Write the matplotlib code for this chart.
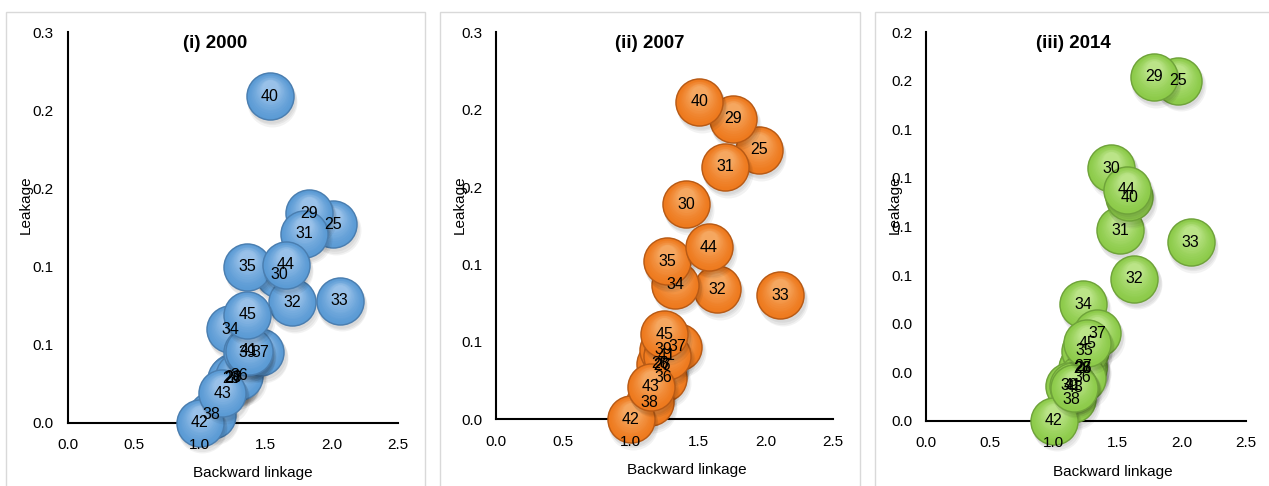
import numpy as np
import matplotlib.pyplot as plt
from matplotlib import transforms
from matplotlib.colors import to_rgb
from matplotlib.patches import Rectangle

plt.rcParams['font.family'] = ['Liberation Sans', 'DejaVu Sans']

# --[Data: backward linkage (x) and leakage (y) per sector]---------------------
sectors = [25, 26, 27, 28, 29, 30, 31, 32, 33, 34, 35,
           36, 37, 38, 39, 40, 41, 42, 43, 44, 45]

bl_2000 = [2.01, 1.25, 1.25, 1.24, 1.83, 1.60, 1.79, 1.70, 2.06, 1.23, 1.36,
           1.30, 1.46, 1.09, 1.36, 1.53, 1.37, 1.00, 1.17, 1.65, 1.36]
lk_2000 = [0.127, 0.029, 0.028, 0.028, 0.134, 0.095, 0.121, 0.077, 0.078, 0.060, 0.100,
           0.030, 0.045, 0.005, 0.045, 0.209, 0.046, 0.000, 0.019, 0.101, 0.069]

bl_2007 = [1.95, 1.23, 1.23, 1.22, 1.76, 1.41, 1.70, 1.64, 2.11, 1.33, 1.27,
           1.24, 1.35, 1.14, 1.24, 1.51, 1.27, 1.00, 1.15, 1.58, 1.25]
lk_2007 = [0.174, 0.035, 0.035, 0.036, 0.194, 0.139, 0.163, 0.084, 0.080, 0.087, 0.102,
           0.027, 0.047, 0.011, 0.045, 0.205, 0.041, 0.000, 0.021, 0.111, 0.055]

bl_2014 = [1.97, 1.23, 1.23, 1.22, 1.78, 1.45, 1.52, 1.63, 2.07, 1.23, 1.24,
           1.22, 1.34, 1.14, 1.12, 1.59, 1.15, 1.00, 1.16, 1.57, 1.26]
lk_2014 = [0.175, 0.027, 0.028, 0.027, 0.177, 0.130, 0.098, 0.073, 0.092, 0.060, 0.036,
           0.022, 0.045, 0.011, 0.018, 0.115, 0.018, 0.000, 0.017, 0.119, 0.040]

x_ticks = [0.0, 0.5, 1.0, 1.5, 2.0, 2.5]
y_ticks_a = [0.0, 0.05, 0.10, 0.15, 0.20, 0.25]
y_labels_a = ['0.0', '0.1', '0.1', '0.2', '0.2', '0.3']
y_ticks_b = [0.0, 0.025, 0.05, 0.075, 0.10, 0.125, 0.15, 0.175, 0.20]
y_labels_b = ['0.0', '0.0', '0.0', '0.1', '0.1', '0.1', '0.1', '0.2', '0.2']

W, H = 1269, 486
fig = plt.figure(figsize=(W / 100, H / 100), dpi=100)


def box(left, top, right, bottom):
    return [left / W, 1 - bottom / H, (right - left) / W, (bottom - top) / H]


def mix(c1, c2, t):
    a, b = np.array(to_rgb(c1)), np.array(to_rgb(c2))
    return tuple(a + (b - a) * t)


def bubbles(ax, xs, ys, labels, base, light, edge, size=1220):
    r = np.sqrt(size) / 2
    for x, y, lab in zip(xs, ys, labels):
        # soft drop shadow
        for k in range(3):
            tr = transforms.offset_copy(ax.transData, fig=fig, x=1.0 + 0.5 * k,
                                        y=-2.0 - k, units='points')
            ax.scatter([x], [y], s=size * (1.0 + 0.03 * k), color='black',
                       alpha=0.05, lw=0, transform=tr, clip_on=False, zorder=3)
        ax.scatter([x], [y], s=size, color=edge, lw=0, clip_on=False, zorder=3)
        # shaded body, lighter towards the top
        n = 12
        for i in range(n):
            f = 0.94 - 0.6 * i / (n - 1)
            t = (i / (n - 1)) ** 1.3
            dy = (0.94 - f) * r * 0.55
            tr = transforms.offset_copy(ax.transData, fig=fig, x=0, y=dy, units='points')
            ax.scatter([x], [y], s=size * f * f, color=mix(base, light, t * 0.8),
                       lw=0, transform=tr, clip_on=False, zorder=3)
    for x, y, lab in zip(xs, ys, labels):
        ax.text(x, y, str(lab), ha='center', va='center', fontsize=11.5,
                color='black', zorder=10, clip_on=False)


panels = [
    dict(x=bl_2000, y=lk_2000, title='(i) 2000', yt=y_ticks_a, yl=y_labels_a,
         ymax=0.25, ax_box=(67.7, 32.3, 397.7, 422.7), frame=(6, 12, 425),
         tpos=(215, 43), ylpos=(26, 205), xlpos=(253, 473),
         base='#5B9BD5', light='#A9CBEE', edge='#4A7EB0'),
    dict(x=bl_2007, y=lk_2007, title='(ii) 2007', yt=y_ticks_a, yl=y_labels_a,
         ymax=0.25, ax_box=(496, 32.3, 832.7, 419.3), frame=(440, 12, 860),
         tpos=(650, 43), ylpos=(460, 205), xlpos=(687, 470),
         base='#EE7A1E', light='#F7B271', edge='#B85A15'),
    dict(x=bl_2014, y=lk_2014, title='(iii) 2014', yt=y_ticks_b, yl=y_labels_b,
         ymax=0.20, ax_box=(926, 32.3, 1245.7, 420.7), frame=(875, 12, 1285),
         tpos=(1073, 43), ylpos=(895, 205), xlpos=(1113, 472),
         base='#8DCB4A', light='#C6EA98', edge='#6FA33A'),
]

for p in panels:
    fl, ft, fr = p['frame']
    fig.patches.append(Rectangle((fl / W, -0.1), (fr - fl) / W, 1 - ft / H + 0.1,
                                 transform=fig.transFigure, fill=False,
                                 edgecolor='#D9D9D9', lw=1.0))

    ax = fig.add_axes(box(*p['ax_box']))
    ax.set_xlim(0, 2.5)
    ax.set_ylim(0, p['ymax'])
    ax.set_xticks(x_ticks)
    ax.set_xticklabels(['%.1f' % v for v in x_ticks])
    ax.set_yticks(p['yt'])
    ax.set_yticklabels(p['yl'])
    ax.tick_params(length=0, labelsize=11, colors='black')
    ax.tick_params(axis='x', pad=11)
    ax.tick_params(axis='y', pad=10)
    for side in ['top', 'right']:
        ax.spines[side].set_visible(False)
    for side in ['left', 'bottom']:
        ax.spines[side].set_linewidth(1.5)
        ax.spines[side].set_color('black')
    ax.patch.set_visible(False)
    ax.xaxis.set_zorder(20)
    ax.yaxis.set_zorder(20)

    bubbles(ax, p['x'], p['y'], sectors, p['base'], p['light'], p['edge'])

    fig.text(p['tpos'][0] / W, 1 - p['tpos'][1] / H, p['title'], ha='center',
             va='center', fontsize=13.5, fontweight='bold')
    fig.text(p['ylpos'][0] / W, 1 - p['ylpos'][1] / H, 'Leakage', ha='center',
             va='center', rotation=90, fontsize=11)
    fig.text(p['xlpos'][0] / W, 1 - p['xlpos'][1] / H, 'Backward linkage',
             ha='center', va='center', fontsize=11)

fig.savefig('out.png', dpi=100)
